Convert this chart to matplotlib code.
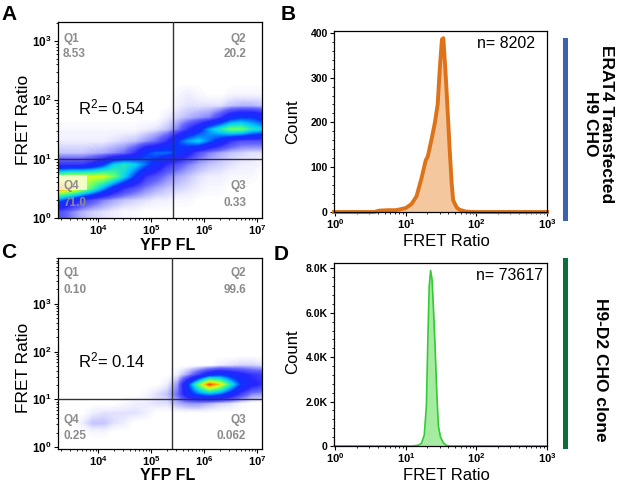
import numpy as np
import matplotlib.pyplot as plt
from matplotlib.colors import LinearSegmentedColormap
from matplotlib.patches import Rectangle

plt.rcParams['font.family'] = ['Liberation Sans', 'DejaVu Sans']
plt.rcParams['mathtext.fontset'] = 'custom'
plt.rcParams['mathtext.rm'] = 'Liberation Sans'
plt.rcParams['mathtext.bf'] = 'Liberation Sans:bold'
plt.rcParams['mathtext.it'] = 'Liberation Sans:italic'

W, H = 617, 482

# ---- density grids (log10 units, 0 = empty ... 10 = red core)
# columns: log10(YFP FL) = 3.3, 3.5, ..., 7.1 ; rows listed top to bottom
dens_a_x = [3.2, 7.2]
dens_a_y = [0.0, 2.4]
dens_a = [
    [0, 0, 0, 0, 0, 0, 0, 0, 0, 0, 0, 0, 0, 0, 0, 0, 0, 0, 0, 0],
    [0, 0, 0, 0, 0, 0, 0, 0, 0, 0, 0, 0.1, 0.2, 0.1, 0, 0, 0.1, 0.1, 0.1, 0.1],
    [0, 0, 0, 0, 0, 0, 0, 0, 0, 0, 0, 0.2, 0.3, 0.3, 0.3, 0.3, 0.5, 0.6, 0.6, 0.5],
    [0, 0, 0, 0, 0, 0, 0, 0, 0, 0, 0.2, 0.4, 0.6, 0.8, 1, 1.8, 3, 3.5, 3.5, 3],
    [0.1, 0.1, 0.1, 0.1, 0.1, 0.1, 0.1, 0.1, 0.2, 0.3, 0.5, 1, 2, 3, 4.5, 5.5, 6.5, 6.5, 5.5, 5],
    [0.2, 0.2, 0.2, 0.2, 0.2, 0.3, 0.4, 0.5, 0.8, 1.2, 2, 3.5, 4.5, 5, 4, 3, 2, 1.5, 1.5, 1.5],
    [0.5, 0.5, 0.5, 0.6, 0.7, 0.9, 1.2, 2, 3.5, 4, 4, 3.5, 2.5, 1.5, 1, 0.7, 0.5, 0.4, 0.3, 0.3],
    [2, 2, 2, 2.5, 3.5, 5, 5.5, 5, 4, 3, 2, 1.5, 1, 0.7, 0.5, 0.4, 0.3, 0.2, 0.2, 0.1],
    [7, 7.5, 7.5, 7.5, 7.5, 6.5, 5, 3.5, 2, 1.5, 1, 0.7, 0.5, 0.3, 0.2, 0.2, 0.1, 0.1, 0.1, 0],
    [9, 8.5, 7.5, 6, 4.5, 3, 2, 1.5, 1, 0.7, 0.5, 0.4, 0.3, 0.2, 0.1, 0.1, 0, 0, 0, 0],
    [4, 3, 2, 1.5, 1, 0.7, 0.5, 0.4, 0.3, 0.2, 0.2, 0.1, 0.1, 0, 0, 0, 0, 0, 0, 0],
    [1.5, 1, 0.6, 0.4, 0.3, 0.2, 0.1, 0.1, 0, 0, 0, 0, 0, 0, 0, 0, 0, 0, 0, 0],
]
dens_c_x = [3.2, 7.2]
dens_c_y = [0.0, 2.2]
dens_c = [
    [0, 0, 0, 0, 0, 0, 0, 0, 0, 0, 0, 0, 0, 0, 0, 0, 0, 0, 0, 0],
    [0, 0, 0, 0, 0, 0, 0, 0, 0, 0, 0, 0, 0, 0, 0, 0, 0, 0, 0, 0],
    [0, 0, 0, 0, 0, 0, 0, 0, 0, 0, 0, 0, 0, 0, 0, 0.2, 0.3, 0.4, 0.4, 0.3],
    [0, 0, 0, 0, 0, 0, 0, 0, 0, 0, 0, 0.2, 0.8, 1.8, 3, 3.5, 3, 2.5, 2, 1.8],
    [0, 0, 0, 0, 0, 0, 0, 0, 0, 0, 0.2, 0.8, 3.5, 6.5, 9.5, 8, 5.5, 3.5, 2.5, 2],
    [0, 0, 0, 0, 0, 0, 0, 0, 0.1, 0.3, 0.5, 1.2, 3, 4, 4.5, 4, 3, 1.8, 1, 0.8],
    [0, 0, 0, 0, 0, 0, 0.1, 0.2, 0.2, 0.3, 0.3, 0.6, 0.8, 0.8, 0.6, 0.4, 0.3, 0.1, 0, 0],
    [0, 0, 0, 0.2, 0.3, 0.3, 0.3, 0.3, 0.2, 0, 0, 0, 0, 0, 0, 0, 0, 0, 0, 0],
    [0, 0, 0.2, 0.5, 0.5, 0.3, 0.2, 0, 0, 0, 0, 0, 0, 0, 0, 0, 0, 0, 0, 0],
    [0, 0, 0, 0.1, 0.1, 0, 0, 0, 0, 0, 0, 0, 0, 0, 0, 0, 0, 0, 0, 0],
    [0, 0, 0, 0, 0, 0, 0, 0, 0, 0, 0, 0, 0, 0, 0, 0, 0, 0, 0, 0],
]

quad_a = ['8.53', '20.2', '0.33', '71.0']   # Q1, Q2, Q3, Q4
quad_c = ['0.10', '99.6', '0.062', '0.25']
r2_a, r2_c = '0.54', '0.14'
gate_x = [5.415, 5.40]   # log10 YFP of vertical gate (A, C)
gate_y = 1.0             # log10 FRET ratio of horizontal gate

# ---- histograms of FRET ratio (x = log10 FRET ratio)
hist_b_x = [-0.02, 0.55, 0.62, 0.75, 0.85, 0.92, 1.0, 1.08, 1.15, 1.22, 1.28, 1.31, 1.36, 1.41,
            1.45, 1.48, 1.51, 1.53, 1.55, 1.57, 1.60, 1.62, 1.65, 1.67, 1.72, 1.76, 1.85, 1.95, 3.0]
hist_b_y = [0, 0, 3, 4, 4, 6, 9, 18, 35, 75, 115, 124, 160, 199,
            240, 320, 385, 388, 340, 288, 200, 139, 60, 26, 10, 5, 1, 0, 0]
hist_d_x = [-0.02, 1.1, 1.18, 1.22, 1.26, 1.29, 1.31, 1.33, 1.35, 1.37, 1.39, 1.41, 1.44,
            1.46, 1.49, 1.53, 1.57, 1.62, 3.0]
hist_d_y = [0, 0, 40, 120, 500, 1800, 4700, 7200, 7900, 7500, 6200, 4700, 2200,
            900, 400, 150, 30, 0, 0]
n_b, n_d = '8202', '73617'

cmap = LinearSegmentedColormap.from_list('flow', [
    (0.0, (1, 1, 1)), (0.02, (0.93, 0.93, 1.0)), (0.06, (0.7, 0.7, 1.0)),
    (0.12, (0.4, 0.4, 1.0)), (0.22, (0.15, 0.15, 1.0)), (0.35, (0.05, 0.2, 1.0)),
    (0.48, (0.0, 0.8, 1.0)), (0.62, (0.3, 1.0, 0.5)), (0.75, (0.85, 1.0, 0.1)),
    (0.87, (1.0, 0.6, 0.0)), (1.0, (1.0, 0.0, 0.0))])


def box(x0, y0, x1, y1):
    # pixel box -> figure fraction rect
    return [x0 / W, 1 - y1 / H, (x1 - x0) / W, (y1 - y0) / H]


def ftext(x, y, s, **kw):
    fig.text(x / W, 1 - y / H, s, **kw)


def log_axis(ax, which, lo, hi, majors):
    minors = [d + np.log10(k) for d in range(int(np.floor(lo)), int(np.ceil(hi)) + 1)
              for k in range(2, 10)]
    minors = [m for m in minors if lo <= m <= hi]
    labels = [r'$\mathbf{10^{%d}}$' % m for m in majors]
    if which == 'x':
        ax.set_xlim(lo, hi)
        ax.set_xticks(majors, labels)
        ax.set_xticks(minors, minor=True)
    else:
        ax.set_ylim(lo, hi)
        ax.set_yticks(majors, labels)
        ax.set_yticks(minors, minor=True)


def style(ax):
    ax.tick_params(which='major', direction='out', length=3, width=0.8, labelsize=8.5, pad=1.5)
    ax.tick_params(which='minor', direction='out', length=1.5, width=0.6)
    ax.tick_params(axis='x', pad=0.5, labelsize=8)
    for t in ax.get_yticklabels() + ax.get_xticklabels():
        t.set_fontweight('bold')
    for s in ax.spines.values():
        s.set_linewidth(0.9)


fig = plt.figure(figsize=(W / 100, H / 100), dpi=100)

# ---- dot plots
for key, rect, grid, gx, gy, ylim, gate in [
        ('A', box(58, 22, 262, 218), dens_a, dens_a_x, dens_a_y, (0.0, 3.32), gate_x[0]),
        ('C', box(58, 258, 262, 449), dens_c, dens_c_x, dens_c_y, (-0.04, 3.96), gate_x[1])]:
    ax = fig.add_axes(rect)
    ax.imshow(np.array(grid), extent=[gx[0], gx[1], gy[0], gy[1]], origin='upper',
              cmap=cmap, vmin=0, vmax=10, interpolation='bilinear', aspect='auto', zorder=1)
    log_axis(ax, 'x', 3.245, 7.094, [4, 5, 6, 7])
    log_axis(ax, 'y', ylim[0], ylim[1], [0, 1, 2, 3])
    ax.axvline(gate, color='#333333', lw=1, zorder=3)
    ax.axhline(gate_y, color='#333333', lw=1, zorder=3)
    if key == 'A':
        ax.add_patch(Rectangle((3.245, 0.47), 0.55, 0.26, facecolor='white', alpha=0.75,
                               edgecolor='none', zorder=2))
    style(ax)

qa = dict(fontsize=8.5, fontweight='bold', color='#8c8c8c', va='center')
for (y1, y2, y3, y4), quads in [((39, 54, 186, 203), quad_a), ((273, 290, 420, 436), quad_c)]:
    ftext(63, y1, 'Q1', ha='left', **qa)
    ftext(63, y2, quads[0], ha='left', **qa)
    ftext(246, y1, 'Q2', ha='right', **qa)
    ftext(246, y2, quads[1], ha='right', **qa)
    ftext(246, y3, 'Q3', ha='right', **qa)
    ftext(246, y4, quads[2], ha='right', **qa)
    ftext(63, y3, 'Q4', ha='left', **qa)
    ftext(63, y4, quads[3], ha='left', **qa)

ftext(78, 107, r'R$^{2}$= ' + r2_a, fontsize=12, ha='left', va='center')
ftext(78, 360, r'R$^{2}$= ' + r2_c, fontsize=12, ha='left', va='center')

# ---- histograms
for rect, hx, hy, line_c, fill_c, lw, ylim, yt, ytl in [
        (box(334, 31, 547, 212), hist_b_x, hist_b_y, '#dd7218', '#f5c79e', 2.8, (0, 404),
         [0, 100, 200, 300, 400], ['0', '100', '200', '300', '400']),
        (box(334, 263, 547, 446), hist_d_x, hist_d_y, '#35c935', '#a6eca0', 1.2, (0, 8240),
         [0, 2000, 4000, 6000, 8000], ['0', '2.0K', '4.0K', '6.0K', '8.0K'])]:
    ax = fig.add_axes(rect)
    ax.fill_between(hx, hy, 0, color=fill_c, lw=0)
    ax.plot(hx, hy, color=line_c, lw=lw, solid_joinstyle='round', clip_on=False)
    log_axis(ax, 'x', -0.02, 3.0, [0, 1, 2, 3])
    ax.set_ylim(*ylim)
    ax.set_yticks(yt, ytl)
    ax.set_yticks(np.arange(0, ylim[1], yt[1] / 5), minor=True)
    style(ax)
    ax.tick_params(axis='y', labelsize=7.5)

ftext(535, 43, 'n= ' + n_b, fontsize=11.5, ha='right', va='center')
ftext(543, 275, 'n= ' + n_d, fontsize=11.5, ha='right', va='center')

# ---- axis labels
ftext(24, 120, 'FRET Ratio', fontsize=12.5, rotation=90, ha='center', va='center')
ftext(24, 368, 'FRET Ratio', fontsize=12.5, rotation=90, ha='center', va='center')
ftext(168, 246, 'YFP FL', fontsize=11.5, fontweight='bold', ha='center', va='center')
ftext(168, 476, 'YFP FL', fontsize=11.5, fontweight='bold', ha='center', va='center')
ftext(293, 122, 'Count', fontsize=12, rotation=90, ha='center', va='center')
ftext(293, 352, 'Count', fontsize=12, rotation=90, ha='center', va='center')
ftext(446, 241, 'FRET Ratio', fontsize=12, ha='center', va='center')
ftext(446, 475, 'FRET Ratio', fontsize=12, ha='center', va='center')

# ---- panel letters
for s, x, y in [('A', 9, 14), ('B', 288, 14), ('C', 9, 253), ('D', 281, 254)]:
    ftext(x, y, s, fontsize=15, fontweight='bold', ha='center', va='center')

# ---- side bars and condition labels
fig.add_artist(Rectangle((563 / W, 1 - 221 / H), 4.5 / W, 183 / H, transform=fig.transFigure,
                         facecolor='#3d62b0', edgecolor='none'))
fig.add_artist(Rectangle((563 / W, 1 - 449 / H), 4.5 / W, 191 / H, transform=fig.transFigure,
                         facecolor='#0b6e3c', edgecolor='none'))
side = dict(fontsize=12.5, fontweight='bold', rotation=270, ha='center', va='center')
ftext(607, 124, 'ERAT4 Transfected', **side)
ftext(590, 124, 'H9 CHO', **side)
ftext(601, 370, 'H9-D2 CHO clone', **side)

fig.savefig('out.png', dpi=100)
